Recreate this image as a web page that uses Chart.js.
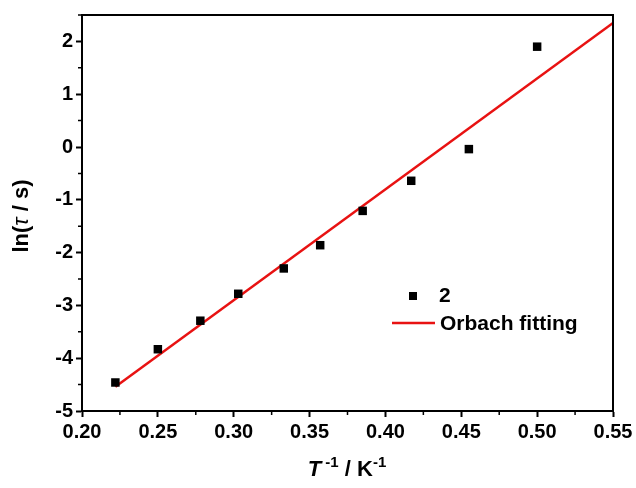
<!DOCTYPE html>
<html>
<head>
<meta charset="utf-8">
<script src="https://cdn.jsdelivr.net/npm/chart.js@4"></script>
<style>
  html, body { margin: 0; padding: 0; background: #fff; }
  #wrap { width: 636px; height: 488px; }
</style>
</head>
<body>
<div id="wrap"><canvas id="c" width="636" height="488"></canvas></div>
<script>
// ---- data ----
const invT = [0.222, 0.250, 0.278, 0.303, 0.333, 0.357, 0.385, 0.417, 0.455, 0.500];
const lnTau = [-4.46, -3.83, -3.29, -2.78, -2.30, -1.86, -1.21, -0.64, -0.04, 1.90];
const fitX = [0.222, 0.550];
const fitY = [-4.54, 2.35];
const seriesLabel = '2';
const fitLabel = 'Orbach fitting';
const xTicks = [0.20, 0.25, 0.30, 0.35, 0.40, 0.45, 0.50, 0.55];
const yTicks = [-5, -4, -3, -2, -1, 0, 1, 2];
const xRange = [0.20, 0.55];
const yRange = [-5, 2.5];

const FONT = '"Liberation Sans", Arial, sans-serif';
const RED = 'rgb(232,18,18)';

const decor = {
  id: 'decor',
  afterDraw(chart) {
    const ctx = chart.ctx;
    const a = chart.chartArea;
    const xs = chart.scales.x, ys = chart.scales.y;
    ctx.save();
    // frame
    ctx.strokeStyle = '#000';
    ctx.lineWidth = 2;
    ctx.strokeRect(a.left, a.top, a.right - a.left, a.bottom - a.top);
    // minor ticks
    ctx.lineWidth = 1.5;
    ctx.beginPath();
    for (let i = 0; i < xTicks.length - 1; i++) {
      const px = xs.getPixelForValue((xTicks[i] + xTicks[i + 1]) / 2);
      ctx.moveTo(px, a.bottom); ctx.lineTo(px, a.bottom + 4);
    }
    for (let i = 0; i < yTicks.length; i++) {
      const v = yTicks[i] + 0.5;
      if (v > yRange[1]) continue;
      const py = ys.getPixelForValue(v);
      ctx.moveTo(a.left, py); ctx.lineTo(a.left - 4, py);
    }
    ctx.stroke();

    // legend
    ctx.fillStyle = '#000';
    ctx.fillRect(409, 292, 8, 8);
    ctx.strokeStyle = RED;
    ctx.lineWidth = 2.5;
    ctx.beginPath(); ctx.moveTo(392, 323); ctx.lineTo(435, 323); ctx.stroke();
    ctx.fillStyle = '#000';
    ctx.font = 'bold 21px ' + FONT;
    ctx.textBaseline = 'middle';
    ctx.textAlign = 'left';
    ctx.fillText(seriesLabel, 439, 296);
    ctx.fillText(fitLabel, 440, 324);

    // x title: T^-1 / K^-1
    const parts = [
      { t: 'T', f: 'italic bold 22px ' + FONT, dy: 0 },
      { t: ' -1', f: 'bold 15px ' + FONT, dy: -9 },
      { t: ' / K', f: 'bold 22px ' + FONT, dy: 0 },
      { t: '-1', f: 'bold 15px ' + FONT, dy: -9 }
    ];
    let w = 0;
    parts.forEach(p => { ctx.font = p.f; p.w = ctx.measureText(p.t).width; w += p.w; });
    let x0 = 347 - w / 2;
    ctx.textBaseline = 'alphabetic';
    parts.forEach(p => { ctx.font = p.f; ctx.fillText(p.t, x0, 476 + p.dy); x0 += p.w; });

    // y title: ln(τ / s)
    ctx.translate(22, 216);
    ctx.rotate(-Math.PI / 2);
    const yp = [
      { t: 'ln(', f: 'bold 22px ' + FONT },
      { t: 'τ', f: 'italic 22px ' + FONT },
      { t: ' / s)', f: 'bold 22px ' + FONT }
    ];
    w = 0;
    yp.forEach(p => { ctx.font = p.f; p.w = ctx.measureText(p.t).width; w += p.w; });
    x0 = -w / 2;
    ctx.textBaseline = 'middle';
    yp.forEach(p => { ctx.font = p.f; ctx.fillText(p.t, x0, 0); x0 += p.w; });
    ctx.restore();
  }
};

new Chart(document.getElementById('c'), {
  type: 'scatter',
  data: {
    datasets: [
      {
        label: fitLabel,
        type: 'line',
        data: fitX.map((x, i) => ({ x: x, y: fitY[i] })),
        borderColor: RED,
        borderWidth: 2.5,
        pointRadius: 0,
        fill: false,
        order: 2
      },
      {
        label: seriesLabel,
        data: invT.map((x, i) => ({ x: x, y: lnTau[i] })),
        pointStyle: 'rect',
        pointRadius: 6,
        backgroundColor: '#000',
        borderColor: '#000',
        borderWidth: 0,
        order: 1
      }
    ]
  },
  options: {
    responsive: false,
    animation: false,
    events: [],
    layout: { padding: { top: 15, right: 23, left: 0, bottom: 0 } },
    plugins: { legend: { display: false }, tooltip: { enabled: false } },
    scales: {
      x: {
        type: 'linear',
        min: xRange[0], max: xRange[1],
        afterBuildTicks: s => { s.ticks = xTicks.map(v => ({ value: v })); },
        afterFit: s => { s.height = 77; },
        ticks: {
          color: '#000',
          font: { family: FONT, size: 20, weight: 'bold' },
          padding: 3,
          maxRotation: 0,
          autoSkip: false,
          callback: v => Number(v).toFixed(2)
        },
        grid: { drawOnChartArea: false, drawTicks: true, tickLength: 6, tickColor: '#000', tickWidth: 2 },
        border: { color: '#000', width: 2 }
      },
      y: {
        type: 'linear',
        min: yRange[0], max: yRange[1],
        afterBuildTicks: s => { s.ticks = yTicks.map(v => ({ value: v })); },
        afterFit: s => { s.width = 82; },
        ticks: {
          color: '#000',
          font: { family: FONT, size: 20, weight: 'bold' },
          padding: 3,
          autoSkip: false,
          callback: v => String(v)
        },
        grid: { drawOnChartArea: false, drawTicks: true, tickLength: 6, tickColor: '#000', tickWidth: 2 },
        border: { color: '#000', width: 2 }
      }
    }
  },
  plugins: [decor]
});
</script>
</body>
</html>
